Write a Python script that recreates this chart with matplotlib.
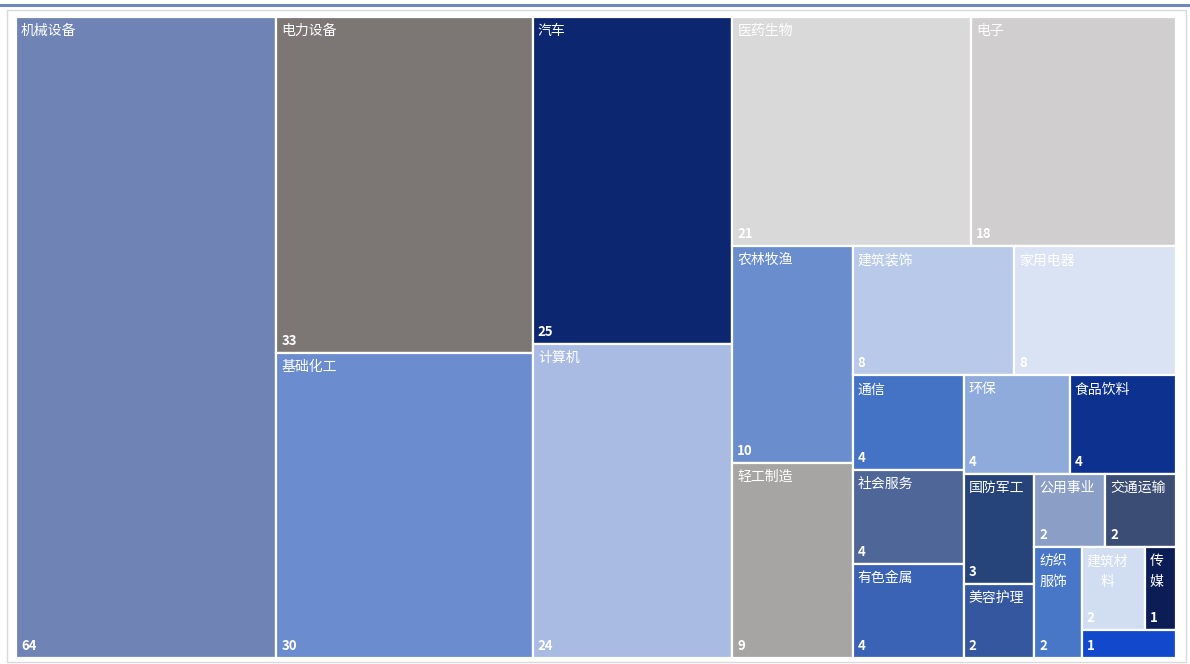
import matplotlib.pyplot as plt
from matplotlib.patches import Rectangle
from matplotlib.lines import Line2D

plt.rcParams['font.family'] = ['Noto Sans CJK SC', 'DejaVu Sans']

names = ['机械设备', '电力设备', '基础化工', '汽车', '计算机', '医药生物', '电子',
         '农林牧渔', '轻工制造', '建筑装饰', '家用电器', '通信', '社会服务', '有色金属',
         '环保', '食品饮料', '国防军工', '美容护理', '公用事业', '交通运输', '纺织服饰',
         '建筑材料', '传媒', '']
counts = [64, 33, 30, 25, 24, 21, 18, 10, 9, 8, 8, 4, 4, 4, 4, 4, 3, 2, 2, 2, 2, 2, 1, 1]
colors = ['#6F84B5', '#7C7774', '#6B8CCE', '#0C276F', '#A9BBE3', '#D9D9D9', '#D0CECE',
          '#698DCD', '#A6A5A3', '#B8C9E9', '#DAE3F3', '#4472C4', '#4F6699', '#3A63B5',
          '#8EABDC', '#0D318E', '#26447A', '#34579F', '#8B9EC5', '#3B4D75', '#4877C7',
          '#D1DDF0', '#0C1D55', '#1249CC']
# how many tiles go in each strip (the chart's own grouping)
strip_sizes = [1, 2, 2, 2, 2, 2, 3, 2, 2, 2, 1, 2, 1]


def layout(vals, sizes, x, y, w, h):
    rects = []
    rest = sum(vals)
    i = 0
    for n in sizes:
        grp = vals[i:i + n]
        s = sum(grp)
        frac = s / rest
        if w >= h:
            sw = w * frac
            yy = y
            for v in grp:
                hh = h * v / s
                rects.append((x, yy, sw, hh))
                yy += hh
            x += sw
            w -= sw
        else:
            sh = h * frac
            xx = x
            for v in grp:
                ww = w * v / s
                rects.append((xx, y, ww, sh))
                xx += ww
            y += sh
            h -= sh
        rest -= s
        i += n
    return rects


def wrap(name, width):
    n = max(1, int((width - 12) / 14))
    return '\n'.join(name[k:k + n] for k in range(0, len(name), n))


W, H = 1160, 641
fig = plt.figure(figsize=(11.9, 6.64), dpi=100)
fig.add_artist(Line2D([0, 1], [1 - 5 / 664] * 2, color='#7088BE', lw=2.2))
fig.add_artist(Rectangle((7 / 1190, 2 / 664), 1179 / 1190, 652 / 664, fill=False,
                         edgecolor='#D9D9D9', lw=1, transform=fig.transFigure))

ax = fig.add_axes([16 / 1190, 1 - 658 / 664, W / 1190, H / 664])
ax.set_xlim(0, W)
ax.set_ylim(H, 0)
ax.axis('off')

for (x, y, w, h), name, c, col in zip(layout(counts, strip_sizes, 0, 0, W, H), names, counts, colors):
    ax.add_patch(Rectangle((x, y), w, h, facecolor=col, edgecolor='white', lw=1.6))
    if name:
        ax.text(x + 5, y + 7, wrap(name, w), ha='left', va='top', color='white',
                fontsize=10, multialignment='center', linespacing=1.55)
    ax.text(x + 5, y + h - 5, str(c), ha='left', va='bottom', color='white',
            fontsize=9.5, fontweight='bold')

fig.savefig('out.png', dpi=100)
